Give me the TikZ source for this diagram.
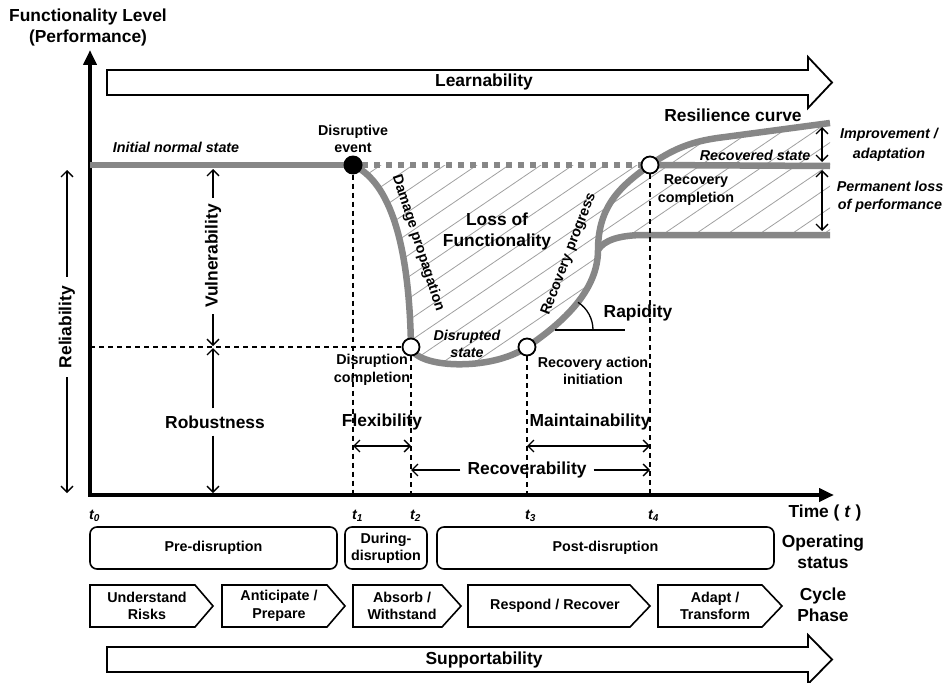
\documentclass[tikz,border=0pt]{standalone}
\usepackage{fontspec}
\setmainfont{Liberation Sans}
\usetikzlibrary{arrows.meta}

\definecolor{curvegray}{RGB}{135,135,135}
\definecolor{hatchgray}{RGB}{160,160,160}

\begin{document}
\begin{tikzpicture}[x=1pt,y=-1pt,
  big/.style={font=\fontsize{17.4}{21}\selectfont\bfseries, inner sep=0pt, align=center},
  small/.style={font=\fontsize{14.3}{17.5}\selectfont\bfseries, inner sep=0pt, align=center},
  smallit/.style={font=\fontsize{14.3}{17.5}\selectfont\bfseries\itshape, inner sep=0pt, align=center},
  curve/.style={curvegray, line width=6.5pt},
  guide/.style={black, line width=1.1pt, dash pattern=on 5pt off 4pt},
  dim/.style={line width=1.3pt, -{Straight Barb[length=6pt,width=12pt]}},
  ddim/.style={line width=1.3pt, {Straight Barb[length=6pt,width=12pt]}-{Straight Barb[length=6pt,width=12pt]}},
  axis/.style={line width=4pt, {Triangle[length=15pt,width=13pt]}-{Triangle[length=15pt,width=13pt]}},
  status/.style={draw, line width=1.6pt, rounded corners=7pt, inner sep=0pt, minimum height=42pt,
    font=\fontsize{14.3}{17}\selectfont\bfseries, align=center},
  phase/.style={draw, line width=1.6pt, line join=miter},
  phasetext/.style={font=\fontsize{14.3}{17.5}\selectfont\bfseries, inner sep=0pt, align=center},
  bigarrow/.style={draw, line width=1.8pt, fill=white, line join=miter},
  hollow/.style={circle, draw, line width=1.8pt, fill=white, minimum size=17pt, inner sep=0pt},
]
\useasboundingbox (0,0) rectangle (944,682);

% key points of the resilience curve
\coordinate (E) at (353,165);
\coordinate (D) at (411,347);
\coordinate (R) at (527,347);
\coordinate (C) at (650,165);
\coordinate (B) at (598,250);

% hatched loss area
\begin{scope}
  \clip (E) -- (C) .. controls (678,145) and (700,140) .. (725,137) -- (830,123) -- (830,235)
    -- (645,235) .. controls (620,235) and (604,240) .. (B)
    .. controls (598,290) and (564,322) .. (R)
    .. controls (490,372) and (415,368) .. (D)
    .. controls (409,230) and (385,180) .. (E) -- cycle;
  \foreach \x in {-90,-58,...,840}
    \draw[hatchgray, line width=0.8pt] (\x,420) -- ++(450,-306);
\end{scope}

% axes
\coordinate (Ytop) at (90,50);
\coordinate (O) at (90,495);
\coordinate (Xend) at (834,495);
\draw[axis] (Ytop) -- (O) -- (Xend);

% time marks on the axis
\coordinate (t1) at (353,495);
\coordinate (t2) at (411,495);
\coordinate (t3) at (527,495);
\coordinate (t4) at (650,495);
\coordinate (h0) at (90,347);

% performance curves
\draw[curve] (90,165) -- (E);
\draw[curve, dash pattern=on 6pt off 6pt] (362,165) -- (643,165);
\draw[curve] (E) .. controls (385,180) and (409,230) .. (D)
  .. controls (415,368) and (490,372) .. (R)
  .. controls (564,322) and (598,290) .. (B)
  .. controls (598,205) and (622,185) .. (C)
  .. controls (678,145) and (700,140) .. (725,137) -- (830,123);
\draw[curve] (B) .. controls (604,240) and (620,235) .. (645,235) -- (830,235);
\draw[curve] (C) -- (830,166);

% state markers
\node[circle, fill=black, minimum size=19pt, inner sep=0pt] (ev) at (E) {};
\node[hollow] (dc) at (D) {};
\node[hollow] (ri) at (R) {};
\node[hollow] (rc) at (C) {};

% guide lines
\draw[guide] (ev) -- (t1);
\draw[guide] (dc) -- (t2);
\draw[guide] (ri) -- (t3);
\draw[guide] (rc) -- (t4);
\draw[guide] (h0) -- (dc);

% big process arrows
\draw[bigarrow] (107,70) -- (808,70) -- (808,57) -- (832,82.5) -- (808,108) -- (808,95) -- (107,95) -- cycle;
\node[big] (learn) at (484,82.5) {Learnability};
\draw[bigarrow] (107,647) -- (808,647) -- (808,635) -- (832,659.5) -- (808,684) -- (808,672) -- (107,672) -- cycle;
\node[big] (support) at (484,659.5) {Supportability};

% axis titles
\node[big] (ylab) at (88,28) {Functionality Level\\(Performance)};
\node[big] (xlab) at (825,513) {Time ( \textit{t} )};
\node[smallit, anchor=west] (lt0) at (89,516) {t\textsubscript{0}};
\node[smallit, anchor=west] (lt1) at (352,516) {t\textsubscript{1}};
\node[smallit, anchor=west] (lt2) at (410,516) {t\textsubscript{2}};
\node[smallit, anchor=west] (lt3) at (525,516) {t\textsubscript{3}};
\node[smallit, anchor=west] (lt4) at (648,516) {t\textsubscript{4}};

% Reliability
\node[big, rotate=90, inner sep=9pt] (rel) at (67,327) {Reliability};
\coordinate (relt) at (67,170);
\coordinate (relb) at (67,493);
\draw[dim] (rel.east) -- (relt);
\draw[dim] (rel.west) -- (relb);

% Vulnerability / Robustness
\node[big, rotate=90, inner sep=6pt] (vul) at (213,256) {Vulnerability};
\coordinate (vt) at (213,169);
\coordinate (vb) at (213,346);
\draw[dim] (vul.east) -- (vt);
\draw[dim] (vul.west) -- (vb);
\node[big, inner ysep=7pt] (rob) at (215,422) {Robustness};
\coordinate (rt) at (213,348);
\coordinate (rb) at (213,493);
\draw[dim] (rob.north -| rt) -- (rt);
\draw[dim] (rob.south -| rb) -- (rb);

% Flexibility / Maintainability / Recoverability
\node[big] (flex) at (382,422) {Flexibility};
\coordinate (fa) at (353,446);
\coordinate (fb) at (411,446);
\draw[ddim] (fa) -- (fb);
\node[big] (maint) at (590,422) {Maintainability};
\coordinate (ma) at (527,446);
\coordinate (mb) at (650,446);
\draw[ddim] (ma) -- (mb);
\node[big, inner xsep=7pt] (recov) at (527,470) {Recoverability};
\coordinate (ra) at (411,470);
\coordinate (rb2) at (650,470);
\draw[dim] (recov.west) -- (ra);
\draw[dim] (recov.east) -- (rb2);

% Rapidity
\coordinate (rap0) at (555,330);
\coordinate (rap1) at (625,330);
\draw[line width=1.3pt] (rap0) -- (rap1);
\draw[line width=1.3pt] (593,330) .. controls (593,318.8) and (587.4,308.4) .. (578,302.3);
\node[big] (rapid) at (638,313) {Rapidity};

% curve annotations
\node[smallit] (init) at (176,147) {Initial normal state};
\node[small] (devent) at (353,139) {Disruptive\\event};
\node[small, rotate=-72] (damage) at (418,243) {Damage propagation};
\node[small, rotate=69] (progress) at (569,254) {Recovery progress};
\node[big] (loss) at (497,231) {Loss of\\Functionality};
\node[smallit] (dstate) at (467,344) {Disrupted\\state};
\node[small] (dcomp) at (372,370) {Disruption\\completion};
\node[small] (rinit) at (593,371) {Recovery action\\initiation};
\node[small] (rcomp) at (696,190) {Recovery\\completion};
\node[big] (rescurve) at (733,115) {Resilience curve};
\node[smallit] (rstate) at (755,155) {Recovered state};
\node[smallit] (improve) at (889,145) {Improvement /\\[2pt]adaptation};
\node[smallit] (perm) at (890,197) {Permanent loss\\[1pt]of performance};
\coordinate (ia) at (822,127);
\coordinate (ib) at (822,162);
\coordinate (ic) at (822,170);
\coordinate (id) at (822,231);
\draw[ddim] (ia) -- (ib);
\draw[ddim] (ic) -- (id);

% operating status
\node[status, minimum width=247pt] (pre) at (213.5,548) {Pre-disruption};
\node[status, minimum width=82pt] (during) at (386,548) {During-\\disruption};
\node[status, minimum width=337pt] (post) at (605.5,548) {Post-disruption};
\node[big] (opstat) at (823,551.5) {Operating\\status};

% cycle phases
\draw[phase] (90,585) -- (195,585) -- (213,606) -- (195,627) -- (90,627) -- cycle;
\node[phasetext] (ph1) at (147,606) {Understand\\Risks};
\draw[phase] (222,585) -- (327,585) -- (345,606) -- (327,627) -- (222,627) -- cycle;
\node[phasetext] (ph2) at (279,606) {Anticipate /\\Prepare};
\draw[phase] (353,585) -- (442,585) -- (461,606) -- (442,627) -- (353,627) -- cycle;
\node[phasetext] (ph3) at (402,606) {Absorb /\\Withstand};
\draw[phase] (468,585) -- (630,585) -- (650,606) -- (630,627) -- (468,627) -- cycle;
\node[phasetext] (ph4) at (555,606) {Respond / Recover};
\draw[phase] (658,585) -- (762,585) -- (782,606) -- (762,627) -- (658,627) -- cycle;
\node[phasetext] (ph5) at (715,606) {Adapt /\\Transform};
\node[big] (cycle) at (823,604.5) {Cycle\\Phase};

\end{tikzpicture}
\end{document}
